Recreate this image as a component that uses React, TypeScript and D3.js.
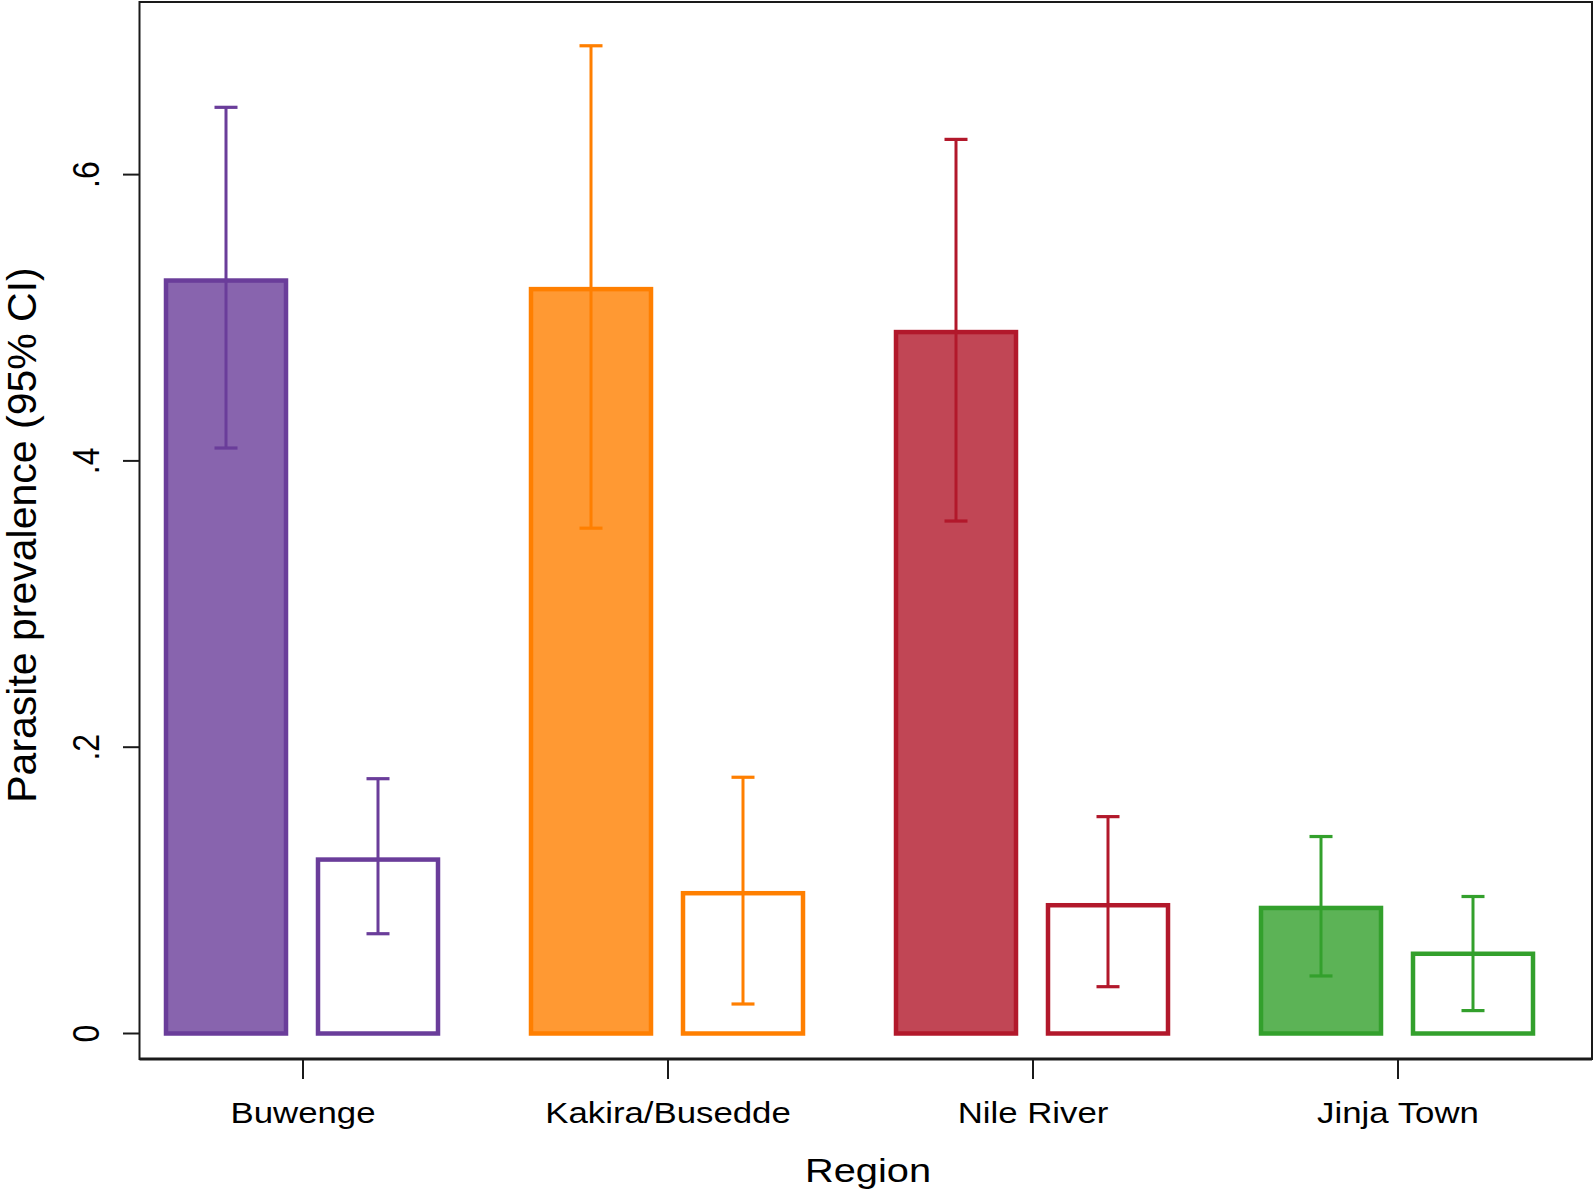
import React from "react";
import * as d3 from "d3";

const regions = ["Buwenge", "Kakira/Busedde", "Nile River", "Jinja Town"];
const seriesKeys = ["filled", "open"];
const filledValues = [0.526, 0.52, 0.49, 0.0877];
const filledLower = [0.409, 0.353, 0.358, 0.0402];
const filledUpper = [0.647, 0.69, 0.6246, 0.1376];
const openValues = [0.1215, 0.098, 0.0896, 0.0557];
const openLower = [0.0697, 0.0206, 0.0327, 0.016];
const openUpper = [0.178, 0.179, 0.1515, 0.0957];
const regionColors = ["#6a3d9a", "#ff7f00", "#b2182b", "#33a02c"];
const yTickValues = [0, 0.2, 0.4, 0.6];
const yTickLabels = ["0", ".2", ".4", ".6"];

const W = 1595;
const H = 1195;
const FONT = "'Liberation Sans', Arial, Helvetica, sans-serif";

export default function App() {
  const frameLeft = 139.5;
  const frameRight = 1592;
  const frameTop = 2;
  const frameBottom = 1059;

  const y = d3.scaleLinear().domain([0, 0.6]).range([1033.5, 174.6]);
  const x0 = d3.scaleBand<string>().domain(regions).range([120.5, 1580.5]).paddingInner(0).paddingOuter(0);
  const gw = x0.bandwidth();
  const x1 = d3
    .scaleBand<string>()
    .domain(seriesKeys)
    .range([gw / 2 - 137, gw / 2 + 135])
    .paddingInner(32 / 152)
    .paddingOuter(0);

  const bars: any[] = [];
  regions.forEach((r, i) => {
    const color = regionColors[i];
    const gx = x0(r) as number;
    const series = [
      { key: "filled", v: filledValues[i], lo: filledLower[i], hi: filledUpper[i] },
      { key: "open", v: openValues[i], lo: openLower[i], hi: openUpper[i] },
    ];
    series.forEach((s) => {
      const bx = gx + (x1(s.key) as number);
      const bw = x1.bandwidth();
      const cx = bx + bw / 2;
      const top = y(s.v);
      const base = y(0);
      bars.push(
        <g key={r + s.key}>
          <rect
            x={bx}
            y={top}
            width={bw}
            height={base - top}
            fill={s.key === "filled" ? color : "#ffffff"}
            fillOpacity={s.key === "filled" ? 0.8 : 1}
            stroke={color}
            strokeWidth={4.5}
          />
          <line x1={cx} x2={cx} y1={y(s.lo)} y2={y(s.hi)} stroke={color} strokeWidth={3} />
          <line x1={cx - 11.5} x2={cx + 11.5} y1={y(s.hi)} y2={y(s.hi)} stroke={color} strokeWidth={3.2} />
          <line x1={cx - 11.5} x2={cx + 11.5} y1={y(s.lo)} y2={y(s.lo)} stroke={color} strokeWidth={3.2} />
        </g>
      );
    });
  });

  return (
    <div style={{ position: "absolute", left: 0, top: 0, background: "#fff" }}>
      <svg width={W} height={H} style={{ display: "block" }} fontFamily={FONT}>
        <rect x={0} y={0} width={W} height={H} fill="#ffffff" />
        {bars}
        {/* frame */}
        <rect
          x={frameLeft}
          y={frameTop}
          width={frameRight - frameLeft}
          height={frameBottom - frameTop}
          fill="none"
          stroke="#1a1a1a"
          strokeWidth={2}
        />
        <line x1={frameLeft} x2={frameRight} y1={frameBottom} y2={frameBottom} stroke="#1a1a1a" strokeWidth={3} />
        {/* y ticks */}
        {yTickValues.map((t, i) => (
          <g key={"yt" + i}>
            <line x1={123} x2={frameLeft} y1={y(t)} y2={y(t)} stroke="#1a1a1a" strokeWidth={2} />
            <text
              transform={`translate(99,${y(t)}) scale(1.17,1) rotate(-90)`}
              textAnchor="middle"
              fontSize={32}
              fill="#000"
            >
              {yTickLabels[i]}
            </text>
          </g>
        ))}
        {/* x ticks */}
        {regions.map((r) => {
          const cx = (x0(r) as number) + gw / 2;
          return (
            <g key={"xt" + r}>
              <line x1={cx} x2={cx} y1={frameBottom} y2={frameBottom + 20} stroke="#1a1a1a" strokeWidth={2} />
              <text
                transform={`translate(${cx},1122.7) scale(1.2,1)`}
                textAnchor="middle"
                fontSize={29}
                fill="#000"
              >
                {r}
              </text>
            </g>
          );
        })}
        <text transform={`translate(868,1181.7) scale(1.17,1)`} textAnchor="middle" fontSize={34} fill="#000">
          Region
        </text>
        <text transform={`translate(36,535) rotate(-90)`} textAnchor="middle" fontSize={41} fill="#000">
          Parasite prevalence (95% CI)
        </text>
      </svg>
    </div>
  );
}
